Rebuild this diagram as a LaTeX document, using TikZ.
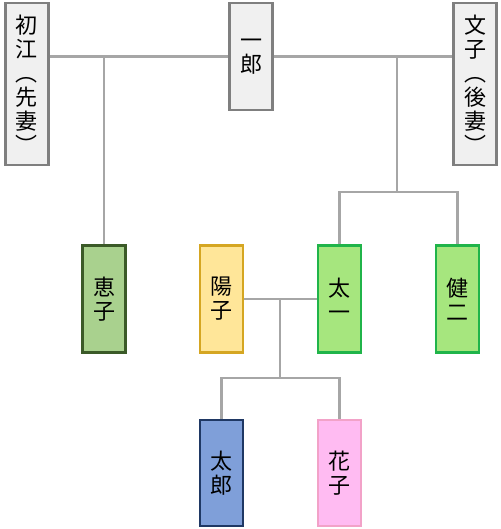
\documentclass[tikz,border=0pt]{standalone}
\usepackage{fontspec}
\setmainfont{Noto Sans CJK JP}
\usetikzlibrary{positioning}

\definecolor{lineg}{HTML}{A6A6A6}
\definecolor{parentf}{HTML}{F0F0F0}
\definecolor{parentd}{HTML}{7F7F7F}
\definecolor{keikof}{HTML}{A9D18E}
\definecolor{keikod}{HTML}{3B5A28}
\definecolor{yokof}{HTML}{FFE699}
\definecolor{yokod}{HTML}{D5A622}
\definecolor{sonf}{HTML}{A6E67E}
\definecolor{sond}{HTML}{20B44A}
\definecolor{tarof}{HTML}{7F9FD9}
\definecolor{tarod}{HTML}{1F3864}
\definecolor{hanaf}{HTML}{FFBBF2}
\definecolor{hanad}{HTML}{F2A2C8}

\tikzset{
  person/.style={draw,line width=2.5pt,minimum width=43pt,align=center,
    font=\fontsize{22}{24}\selectfont,inner sep=0pt},
  link/.style={draw=lineg,line width=2.5pt}
}

\begin{document}
\begin{tikzpicture}[x=1pt,y=-1pt]

  \useasboundingbox (0,0) rectangle (500,529);

  % Parents
  \node[person,fill=parentf,draw=parentd,minimum height=162pt] (hatsue) at (27,84)
    {初\\江\\︵\\先\\妻\\︶};
  \node[person,fill=parentf,draw=parentd,minimum height=107pt] (ichiro) at (251,56.5)
    {一\\郎};
  \node[person,fill=parentf,draw=parentd,minimum height=162pt] (fumiko) at (475,84)
    {文\\子\\︵\\後\\妻\\︶};

  % Children
  \node[person,fill=keikof,draw=keikod,minimum height=107pt] (keiko) at (104,299) {恵\\子};
  \node[person,fill=yokof,draw=yokod,minimum height=107pt] (yoko) at (221.5,299) {陽\\子};
  \node[person,fill=sonf,draw=sond,minimum height=107pt] (taichi) at (339.5,299) {太\\一};
  \node[person,fill=sonf,draw=sond,minimum height=107pt] (kenji) at (457.5,299) {健\\二};

  % Grandchildren
  \node[person,fill=tarof,draw=tarod,minimum height=106pt] (taro) at (221.5,473) {太\\郎};
  \node[person,fill=hanaf,draw=hanad,minimum height=106pt] (hanako) at (339.5,473) {花\\子};

  % Marriages
  \coordinate (m1) at (104,56.5);
  \coordinate (m2) at (397,56.5);
  \coordinate (m3) at (280,299);
  \coordinate (s2) at (397,192);
  \coordinate (s3) at (280,378);

  \path[link] (hatsue.east |- ichiro.west) -- (ichiro.west);
  \path[link] (ichiro.east) -- (fumiko.west |- ichiro.east);
  \path[link] (m1) -- (keiko.north);
  \path[link] (m2) -- (s2);
  \path[link] (taichi.north) |- (s2) -| (kenji.north);
  \path[link] (yoko.east) -- (taichi.west);
  \path[link] (m3) -- (s3);
  \path[link] (taro.north) |- (s3) -| (hanako.north);

\end{tikzpicture}
\end{document}
